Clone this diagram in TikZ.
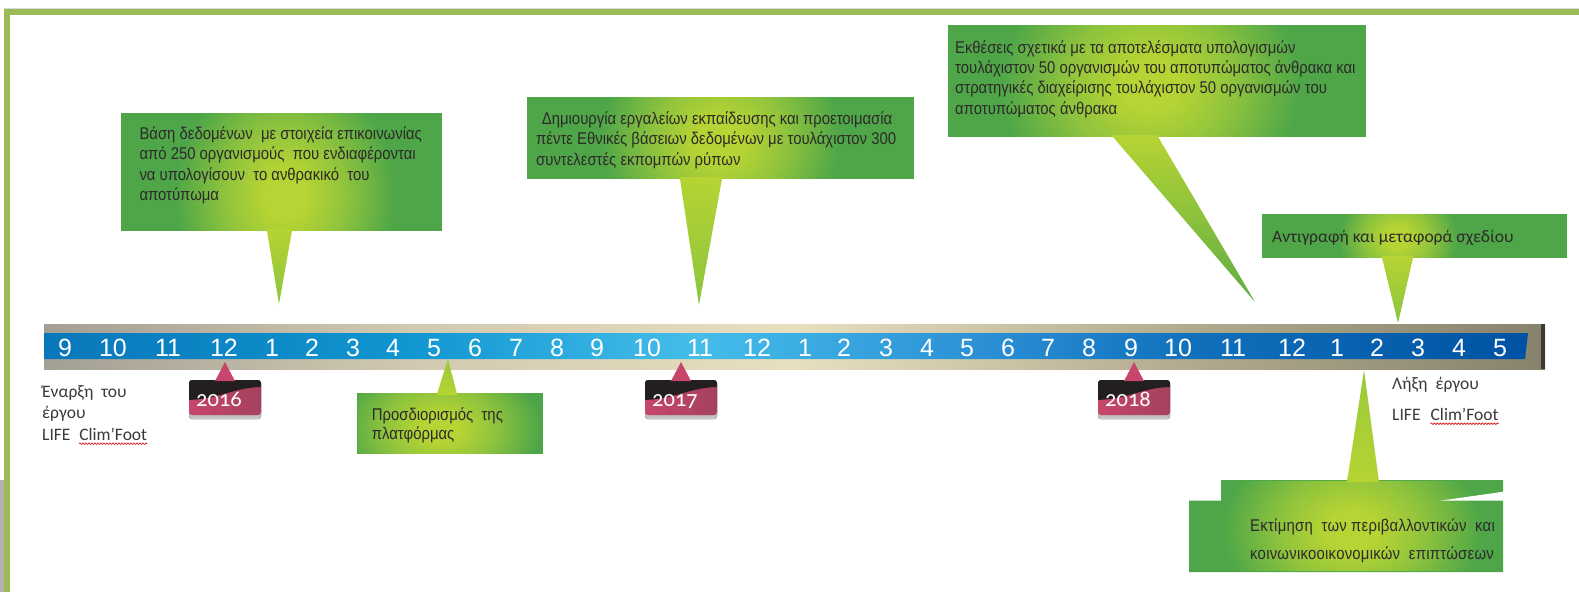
\documentclass[tikz,border=0pt]{standalone}
\usepackage{fontspec}
\setmainfont{Liberation Sans}
\newfontfamily\narrowf[FakeStretch=0.875]{Liberation Sans}
\newfontfamily\narrowwf[FakeStretch=0.875,LetterSpace=1.5]{Liberation Sans}
\newfontfamily\calibf{Carlito}
\newfontfamily\yearf[Numbers=OldStyle]{Carlito}
\usetikzlibrary{decorations.pathmorphing}

\definecolor{framegreen}{HTML}{9BBB59}
\definecolor{cgreen}{HTML}{4EA648}
\definecolor{clime}{HTML}{B6D433}
\definecolor{cmid}{HTML}{8EC33D}
\definecolor{tipa}{HTML}{8CC43E}
\definecolor{tipb}{HTML}{5EAD44}
\definecolor{tipc}{HTML}{9ACA3A}
\definecolor{txtc}{HTML}{2E2A2A}
\definecolor{lblc}{HTML}{3B3838}
\definecolor{tagred}{HTML}{C7466B}
\definecolor{tagred2}{HTML}{A4415D}
\definecolor{tagblack}{HTML}{231F20}
\definecolor{b1}{HTML}{A39F94}
\definecolor{b2}{HTML}{D0C8B0}
\definecolor{b3}{HTML}{E8DFBF}
\definecolor{b4}{HTML}{B0A98E}
\definecolor{b5}{HTML}{86826C}
\definecolor{u1}{HTML}{0A77BB}
\definecolor{u2}{HTML}{0F95D0}
\definecolor{u3}{HTML}{45BDEA}
\definecolor{u4}{HTML}{2A8ED4}
\definecolor{u5}{HTML}{0F6FBB}
\definecolor{u6}{HTML}{0052A3}

\pgfdeclareradialshading{glow}{\pgfpoint{0bp}{0bp}}{color(0bp)=(clime); color(5bp)=(clime); color(14bp)=(cmid); color(25bp)=(cgreen); color(50bp)=(cgreen)}
\pgfdeclarehorizontalshading{barshade}{100bp}{color(0bp)=(b1); color(25bp)=(b1); color(37bp)=(b2); color(50bp)=(b3); color(63.5bp)=(b4); color(75bp)=(b5); color(100bp)=(b5)}
\pgfdeclarehorizontalshading{blueshade}{100bp}{color(0bp)=(u1); color(25bp)=(u1); color(37bp)=(u2); color(47bp)=(u3); color(57bp)=(u4); color(64bp)=(u5); color(75bp)=(u6); color(100bp)=(u6)}

\tikzset{
  ntxt/.style={font=\narrowf\fontsize{17}{20}\selectfont, text=txtc, inner sep=0pt, anchor=base west},
  wtxt/.style={font=\narrowwf\fontsize{17}{20}\selectfont, text=txtc, inner sep=0pt, anchor=base west},
  lbl/.style={font=\calibf\fontsize{17.5}{20}\selectfont, text=lblc, inner sep=0pt, anchor=base west},
  digit/.style={font=\fontsize{25}{25}\selectfont, text=white, inner sep=0pt},
  yeartxt/.style={font=\yearf\fontsize{22.5}{22}\selectfont, text=white, inner sep=0pt, anchor=base},
  wavy/.style={draw=red!85!black, line width=0.6pt, decorate, decoration={snake, amplitude=0.8pt, segment length=3pt}},
}

% glowing box: #1 x1, #2 y1, #3 x2, #4 y2, #5 glow centre, #6 x radius, #7 y radius
\newcommand\glowbox[7]{%
  \fill[cgreen] (#1,#2) rectangle (#3,#4);
  \begin{scope}
    \clip ({#1+0.9},{#2+0.9}) rectangle ({#3-0.9},{#4-0.9});
    \shade[shading=glow] #5 ellipse [x radius=#6pt, y radius=#7pt];
  \end{scope}
}

\newcommand\yeartag[3]{%
  \fill[rounded corners=3pt, top color=black!70, bottom color=black!20] ({#2-36},384) rectangle ({#2+36},419);
  \shade[rounded corners=3pt, left color=tagred, right color=tagred2] ({#2-36},380) rectangle ({#2+36},415);
  \begin{scope}
    \clip[rounded corners=3pt] ({#2-36},380) rectangle ({#2+36},415);
    \fill[tagblack] ({#2-37},379) -- ({#2+37},379) -- ({#2+37},387) .. controls ({#2+10},387) and ({#2-5},399) .. ({#2-37},400) -- cycle;
  \end{scope}
  \fill[tagred] ({#2-10},381) -- (#2,362) -- ({#2+10},381) -- cycle;
  \node[yeartxt] (#1) at ({#2-6},406) {#3};
}

\begin{document}
\begin{tikzpicture}[x=1pt,y=-1pt]
\useasboundingbox (0,0) rectangle (1579,592);
\fill[white] (0,0) rectangle (1579,592);

% frame
\fill[black!30] (0,480) rectangle (4,592);
\draw[black!15, line width=1pt] (4,8.5) -- (1579,8.5);
\draw[framegreen, line width=6pt] (7,592) -- (7,12) -- (1579,12);

% timeline bar
\shade[shading=barshade] (44,324) rectangle (1545,369);
\fill[black!55!b5] (1541,324) rectangle (1545,369);
\shade[shading=blueshade] (44,333) -- (1528,333) -- (1525,359) -- (44,359) -- cycle;
\foreach \x/\n [count=\i] in {65/9,113/10,168/11,224/12,272/1,312/2,353/3,393/4,434/5,475/6,516/7,557/8,597/9,647/10,700/11,757/12,805/1,844/2,886/3,927/4,967/5,1008/6,1048/7,1089/8,1131/9,1178/10,1233/11,1292/12,1337/1,1377/2,1418/3,1459/4,1500/5}
  \node[digit] (m\i) at (\x,348) {\n};

% year tags
\yeartag{y2016}{225}{2016}
\yeartag{y2017}{681}{2017}
\yeartag{y2018}{1134}{2018}

% callout 1
\glowbox{121}{113}{442}{231}{(285,195)}{110}{125}
\shade[top color=clime, bottom color=tipa] (266.7,229) -- (279,304) -- (292.3,229) -- cycle;
\foreach \t [count=\i from 0] in {Βάση δεδομένων~ με στοιχεία επικοινωνίας, από 250 οργανισμούς~ που ενδιαφέρονται, να υπολογίσουν~ το ανθρακικό~ του, αποτύπωμα}
  \node[ntxt] (c1t\i) at (139.3,{139.3+20.35*\i}) {\t};

% callout 2
\glowbox{527}{97}{914}{179}{(720,140)}{120}{110}
\shade[top color=clime, bottom color=tipa] (679.7,177) -- (699,305) -- (722.3,177) -- cycle;
\node[ntxt] (c2t0) at (541.7,124) {Δημιουργία εργαλείων εκπαίδευσης και προετοιμασία};
\node[ntxt] (c2t1) at (536,144.3) {πέντε Εθνικές βάσειων δεδομένων με τουλάχιστον 300};
\node[ntxt] (c2t2) at (536,165) {συντελεστές εκπομπών ρύπων};

% callout 3
\glowbox{948}{25}{1366}{137}{(1150,85)}{150}{130}
\shade[top color=clime, bottom color=tipb] (1111.3,135) -- (1255,302) -- (1157,135) -- cycle;
\foreach \t [count=\i from 0] in {Εκθέσεις σχετικά με τα αποτελέσματα υπολογισμών, τουλάχιστον 50 οργανισμών του αποτυπώματος άνθρακα και, στρατηγικές διαχείρισης τουλάχιστον 50 οργανισμών του, αποτυπώματος άνθρακα}
  \node[ntxt] (c3t\i) at (955,{53.3+20.3*\i}) {\t};

% callout 4
\glowbox{1262}{214}{1567}{258}{(1398,238)}{60}{55}
\shade[top color=clime, bottom color=tipa] (1381.6,256) -- (1398,323) -- (1413.4,256) -- cycle;
\node[lbl, text=txtc] (c4t0) at (1272,242) {Αντιγραφή και μεταφορά σχεδίου};

% callout 5
\fill[cgreen] (1221,480) -- (1503,480) -- (1503,572) -- (1189,572) -- (1189,500.7) -- (1221,500.7) -- cycle;
\begin{scope}
  \clip (1221.9,480.9) -- (1502.1,480.9) -- (1502.1,571.1) -- (1189.9,571.1) -- (1189.9,501.6) -- (1221.9,501.6) -- cycle;
  \shade[shading=glow] (1352,530) ellipse [x radius=130pt, y radius=100pt];
\end{scope}
\fill[white] (1503.5,491.7) -- (1503.5,500.7) -- (1440,500.7) -- cycle;
\shade[bottom color=clime, top color=tipc] (1347,482) -- (1364,370) -- (1379,482) -- cycle;
\node[wtxt] (c5t0) at (1250,531) {Εκτίμηση~ των περιβαλλοντικών~ και};
\node[wtxt] (c5t1) at (1250,559) {κοινωνικοοικονομικών~ επιπτώσεων};

% callout 6
\glowbox{357}{393}{543}{454}{(440,428)}{100}{70}
\shade[bottom color=clime, top color=tipc] (436.7,395) -- (448,359) -- (457.3,395) -- cycle;
\node[ntxt] (c6t0) at (371.7,420) {Προσδιορισμός~ της};
\node[ntxt] (c6t1) at (371.7,439.3) {πλατφόρμας};

% start / end labels
\node[lbl] (startA) at (42,397) {Έναρξη~ του};
\node[lbl] (startB) at (42,418.3) {έργου};
\node[lbl] (lifeL) at (42,440.7) {LIFE};
\node[lbl] (climL) at ([xshift=8.3pt]lifeL.base east) {Clim’Foot};
\draw[wavy] ([yshift=-3pt]climL.base west) -- ([yshift=-3pt]climL.base east);

\node[lbl] (endA) at (1392,389.3) {Λήξη~ έργου};
\node[lbl] (lifeR) at (1392,420.7) {LIFE};
\node[lbl] (climR) at ([xshift=9.7pt]lifeR.base east) {Clim’Foot};
\draw[wavy] ([yshift=-3pt]climR.base west) -- ([yshift=-3pt]climR.base east);
\end{tikzpicture}
\end{document}
